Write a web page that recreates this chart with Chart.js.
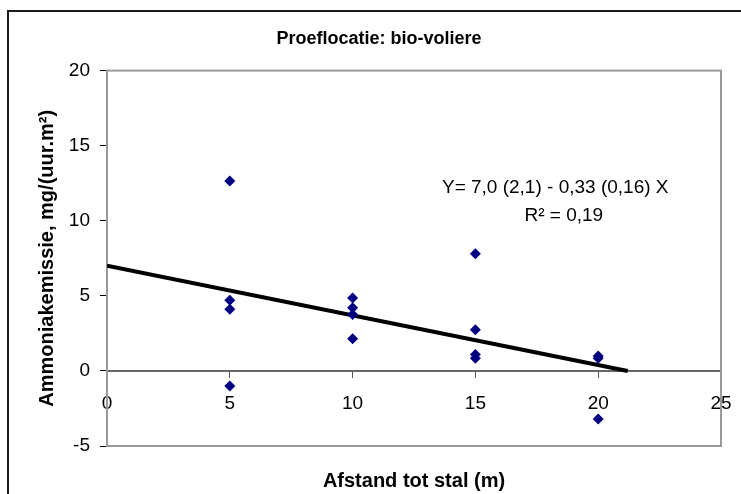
<!DOCTYPE html>
<html>
<head>
<meta charset="utf-8">
<script src="https://cdn.jsdelivr.net/npm/chart.js@4/dist/chart.umd.min.js"></script>
<style>
  html, body { margin: 0; padding: 0; background: #fff; overflow: hidden; }
  #wrap { position: relative; width: 741px; height: 494px; }
  #frame { position: absolute; left: 7px; top: 10px; width: 900px; height: 700px;
           border: 2px solid #1a1a1a; box-sizing: border-box; }
  #c { position: absolute; left: 0; top: 0; }
</style>
</head>
<body>
<div id="wrap">
  <div id="frame"></div>
  <canvas id="c" width="741" height="494"></canvas>
</div>
<script>
var afstand  = [5, 5, 5, 5, 10, 10, 10, 10, 15, 15, 15, 15, 20, 20, 20];
var emissie  = [12.65, 4.7, 4.1, -1.0, 4.85, 4.2, 3.75, 2.15, 7.8, 2.75, 1.1, 0.85, 1.0, 0.85, -3.2];

// regression line end points
var trendX = [0, 21.2];
var trendY = [7.0, 0];

var xTicks = [0, 5, 10, 15, 20, 25];
var yTicks = [-5, 0, 5, 10, 15, 20];

var formule = 'Y= 7,0 (2,1) - 0,33 (0,16) X';
var r2tekst = 'R\u00B2 = 0,19';

var FONT = "'Liberation Sans', Arial, sans-serif";

var points = [];
for (var i = 0; i < afstand.length; i++) points.push({x: afstand[i], y: emissie[i]});
var trend = [];
for (var j = 0; j < trendX.length; j++) trend.push({x: trendX[j], y: trendY[j]});

// grey box round the plot area plus the regression text
var plotExtras = {
    id: 'plotExtras',
    beforeDatasetsDraw: function (chart) {
        var a = chart.chartArea, ctx = chart.ctx;
        ctx.save();
        ctx.strokeStyle = '#9a9a9a';
        ctx.lineWidth = 2;
        ctx.strokeRect(a.left, a.top, a.right - a.left, a.bottom - a.top);
        ctx.restore();
    },
    afterDatasetsDraw: function (chart) {
        var ctx = chart.ctx, sx = chart.scales.x, sy = chart.scales.y;
        ctx.save();
        ctx.fillStyle = '#000';
        ctx.font = '19px ' + FONT;
        ctx.textAlign = 'center';
        ctx.textBaseline = 'middle';
        ctx.fillText(formule, sx.getPixelForValue(18.25), sy.getPixelForValue(12.2));
        ctx.fillText(r2tekst, sx.getPixelForValue(18.6), sy.getPixelForValue(10.3));
        ctx.restore();
    }
};

new Chart(document.getElementById('c'), {
    type: 'scatter',
    data: {
        datasets: [{
            label: 'metingen',
            data: points,
            pointStyle: 'rectRot',
            pointRadius: 5.5,
            pointHoverRadius: 5.5,
            pointBorderWidth: 0,
            backgroundColor: '#000080',
            borderColor: '#000080'
        }, {
            label: 'regressie',
            data: trend,
            showLine: true,
            borderColor: '#000',
            borderWidth: 4,
            pointRadius: 0,
            fill: false
        }]
    },
    options: {
        responsive: false,
        animation: false,
        layout: { padding: { left: 37, right: 20, top: 0, bottom: 0 } },
        plugins: {
            legend: { display: false },
            tooltip: { enabled: false },
            title: {
                display: true,
                text: 'Proeflocatie: bio-voliere',
                color: '#000',
                font: { family: FONT, size: 18, weight: 'bold' },
                padding: { top: 28, bottom: 21 }
            },
            subtitle: {
                display: true,
                position: 'bottom',
                fullSize: false,
                text: 'Afstand tot stal (m)',
                color: '#000',
                font: { family: FONT, size: 20, weight: 'bold', lineHeight: 1.2 },
                padding: { top: 23, bottom: 1 }
            }
        },
        scales: {
            x: {
                type: 'linear',
                position: { y: 0 },
                min: 0, max: 25,
                afterBuildTicks: function (s) { s.ticks = xTicks.map(function (v) { return {value: v}; }); },
                afterFit: function (s) { s.paddingLeft = 0; s.paddingRight = 0; },
                grid: { drawOnChartArea: false, drawTicks: true, tickLength: 6, color: '#555' },
                border: { display: true, color: '#666', width: 2 },
                ticks: { color: '#000', font: { family: FONT, size: 19 }, padding: 15, maxRotation: 0 }
            },
            y: {
                type: 'linear',
                position: 'left',
                min: -5, max: 20,
                afterBuildTicks: function (s) { s.ticks = yTicks.map(function (v) { return {value: v}; }); },
                afterFit: function (s) { s.width = 70; },
                grid: { drawOnChartArea: false, drawTicks: true, tickLength: 7, color: '#000' },
                border: { display: true, color: '#000', width: 2 },
                ticks: { color: '#000', font: { family: FONT, size: 19 }, padding: 10 },
                title: {
                    display: true,
                    text: 'Ammoniakemissie, mg/(uur.m\u00B2)',
                    color: '#000',
                    font: { family: FONT, size: 20, weight: 'bold', lineHeight: 1.0 },
                    padding: { top: 0, bottom: 0 }
                }
            }
        }
    },
    plugins: [plotExtras]
});
</script>
</body>
</html>
